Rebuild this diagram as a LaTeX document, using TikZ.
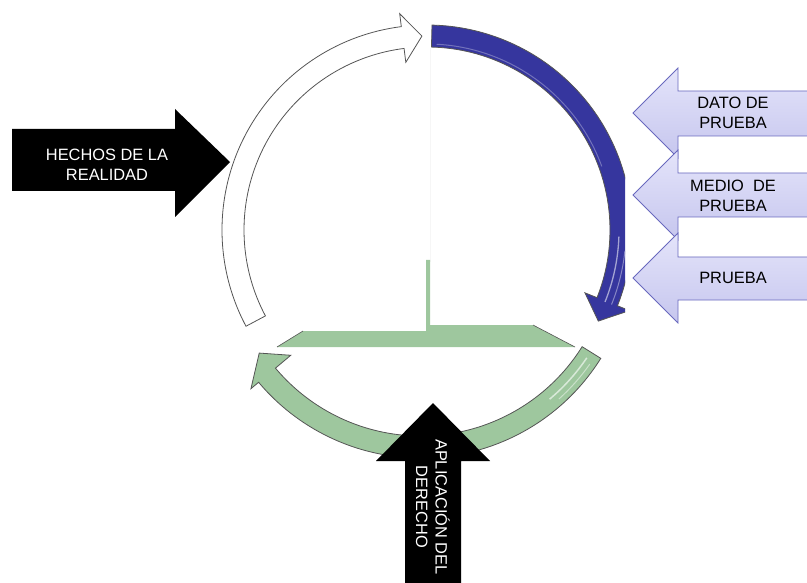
\documentclass[tikz,border=0pt]{standalone}
\usepackage{fontspec}
\setmainfont{Liberation Sans}
\usetikzlibrary{calc}
\definecolor{bluearrow}{RGB}{54,54,158}
\definecolor{greenarrow}{RGB}{158,199,158}
\definecolor{lavtop}{RGB}{228,228,250}
\definecolor{lavbot}{RGB}{198,198,238}
\definecolor{lavborder}{RGB}{105,105,190}
\definecolor{outl}{RGB}{85,85,85}
\begin{document}
\begin{tikzpicture}[x=1pt,y=1pt,
  lbl/.style={font=\fontsize{16.4}{19.5}\selectfont, align=center, inner sep=0pt},
  ringline/.style={draw=outl, line width=0.8pt},
  lavarrow/.style={draw=lavborder, line width=0.8pt, top color=lavtop, bottom color=lavbot},
  blackarrow/.style={fill=black}]
\useasboundingbox (0,0) rectangle (807,-583);
\coordinate (C) at (427,-230);
\coordinate (G) at (421,-246);
\coordinate (f1) at (430,-48);
\coordinate (f2) at (430,-262);

% faint vertical line
\draw[gray!7, line width=0.6pt] (f1) -- (f2);

% white arrow
\path[ringline, fill=white] ($(C)+(208:183)$) -- ($(C)+(208:205)$)
  arc[start angle=208, end angle=97.2, radius=205]
  -- ($(C)+(97.2:218)$) -- ($(C)+(91.5:194)$) -- ($(C)+(97.2:169)$)
  -- ($(C)+(97.2:183)$) arc[start angle=97.2, end angle=208, radius=183] -- cycle;

% blue arrow (clipped at right)
\begin{scope}
\clip (0,0) rectangle (625,-583);
\path[ringline, fill=bluearrow] ($(C)+(88.6:183)$) -- ($(C)+(88.6:205)$)
  arc[start angle=88.6, end angle=-21.7, radius=205]
  -- ($(C)+(-21.7:218)$) -- ($(C)+(-28:194)$) -- ($(C)+(-21.7:170)$)
  -- ($(C)+(-21.7:183)$) arc[start angle=-21.7, end angle=88.6, radius=183] -- cycle;
\draw[white!55!bluearrow, line width=1.3pt] ($(C)+(-2:192)$) arc[start angle=-2, end angle=-22, radius=192];
\draw[white!40!bluearrow, line width=1pt] ($(C)+(-6:199)$) arc[start angle=-6, end angle=-22, radius=199];
\draw[white!30!bluearrow, line width=1pt] ($(C)+(87:186)$) arc[start angle=87, end angle=20, radius=186];
\end{scope}

% green band
\fill[greenarrow] (277,-347) -- (303,-331) -- (426,-331) -- (426,-260) -- (430,-260)
  -- (430,-325) -- (533,-325) -- (575,-347) -- cycle;
\draw[outl, line width=0.6pt] (277,-347) -- (303,-331);
\draw[outl, line width=0.6pt] (533,-325) -- (575,-347);

% green arrow
\path[ringline, fill=greenarrow] ($(G)+(-32:190)$) -- ($(G)+(-32:212)$)
  arc[start angle=-32, end angle=-140, radius=212]
  -- ($(G)+(-140:222)$) -- ($(G)+(-146.5:194)$) -- ($(G)+(-140:170)$)
  -- ($(G)+(-140:190)$) arc[start angle=-140, end angle=-32, radius=190] -- cycle;
\draw[white!60!greenarrow, line width=1.5pt] ($(G)+(-34:200)$) arc[start angle=-34, end angle=-50, radius=200];
\draw[white!45!greenarrow, line width=1pt] ($(G)+(-35:206)$) arc[start angle=-35, end angle=-48, radius=206];

% HECHOS DE LA REALIDAD arrow
\fill[blackarrow] (12,-129) -- (175,-129) -- (175,-109) -- (230,-162) -- (175,-217)
  -- (175,-191) -- (12,-191) -- cycle;
\node[lbl, text=white] (hechos) at (107,-165) {HECHOS DE LA\\REALIDAD};

% APLICACION DEL DERECHO arrow
\fill[blackarrow] (405,-590) -- (405,-461) -- (376,-461) -- (433,-403) -- (490,-461)
  -- (461,-461) -- (461,-590) -- cycle;
\node[lbl, text=white, rotate=-90] (aplic) at (433,-507) {APLICACIÓN DEL\\DERECHO};

% right lavender arrows
\path[lavarrow] (633,-113) -- (678,-68) -- (678,-91) -- (810,-91) -- (810,-136)
  -- (678,-136) -- (678,-158) -- cycle;
\node[lbl] (dato) at (733,-113) {DATO DE\\PRUEBA};

\path[lavarrow] (633,-195) -- (678,-150) -- (678,-173) -- (810,-173) -- (810,-217)
  -- (678,-217) -- (678,-240) -- cycle;
\node[lbl] (medio) at (733,-196) {MEDIO\ \ DE\\PRUEBA};

\path[lavarrow] (633,-278) -- (678,-233) -- (678,-257) -- (810,-257) -- (810,-300)
  -- (678,-300) -- (678,-323) -- cycle;
\node[lbl] (prueba) at (733,-278) {PRUEBA};
\end{tikzpicture}
\end{document}
